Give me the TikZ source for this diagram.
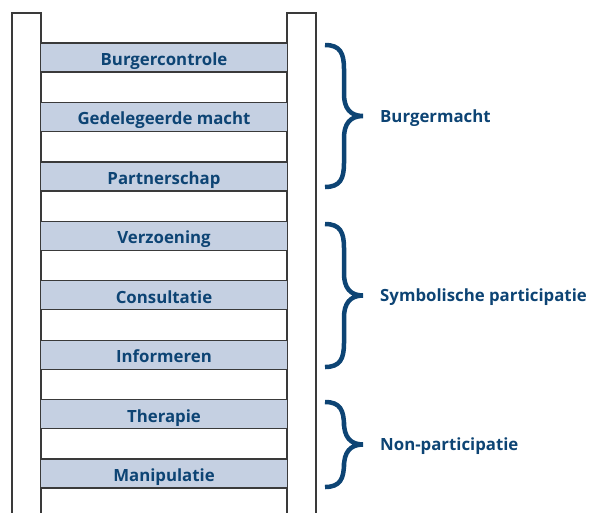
\documentclass[tikz,border=0pt]{standalone}
\usepackage{fontspec}
\setmainfont{Open Sans}
\definecolor{rungfill}{HTML}{C5D0E2}
\definecolor{txtblue}{HTML}{0D4474}
\definecolor{edge}{HTML}{3A3A3A}
\begin{document}
\begin{tikzpicture}[x=1pt,y=-1pt,
  rail/.style={draw=edge,line width=1.1pt,fill=white},
  rung/.style={draw=edge,line width=1.3pt,fill=rungfill},
  rungtxt/.style={text=txtblue,font=\fontsize{16.8}{18}\selectfont\bfseries,anchor=base,inner sep=0pt},
  grouptxt/.style={text=txtblue,font=\fontsize{16.8}{18}\selectfont\bfseries,anchor=base west,inner sep=0pt},
  bracepath/.style={draw=txtblue,line width=4.5pt,line cap=butt}]
\useasboundingbox (0,0) rectangle (593,512);
% rails
\draw[rail] (12,520) -- (12,13) -- (41,13) -- (41,520);
\draw[rail] (287,520) -- (287,13) -- (316,13) -- (316,520);
% rungs
\foreach \i/\t/\n in {0/Burgercontrole/r1,1/Gedelegeerde macht/r2,2/Partnerschap/r3,3/Verzoening/r4,4/Consultatie/r5,5/Informeren/r6,6/Therapie/r7,7/Manipulatie/r8}{
  \pgfmathsetmacro{\yt}{43+\i*59.43}
  \fill[rungfill] (41,\yt) rectangle (287,\yt+29);
  \draw[draw=edge,line width=1.3pt] (41,\yt) -- (287,\yt) (41,\yt+29) -- (287,\yt+29);
  \node[rungtxt] (\n) at (164,\yt+22.5) {\t};
}
% braces
\newcommand{\mybrace}[3]{% top, bottom, name
  \pgfmathsetmacro{\ym}{(#1+#2)/2}
  \draw[bracepath] (325,#1) .. controls (340,#1) and (344,#1+8) .. (344,#1+24)
    -- (344,\ym-22) .. controls (344,\ym-8) and (350,\ym) .. (363,\ym)
    .. controls (350,\ym) and (344,\ym+8) .. (344,\ym+22)
    -- (344,#2-24) .. controls (344,#2-8) and (340,#2) .. (325,#2);
  \coordinate (#3) at (380,\ym+6);
}
\mybrace{45}{187}{b1}
\mybrace{224}{367}{b2}
\mybrace{402}{487}{b3}
\node[grouptxt] (g1) at (b1) {Burgermacht};
\node[grouptxt] (g2) at (b2) {Symbolische participatie};
\node[grouptxt] (g3) at (b3) {Non-participatie};
\end{tikzpicture}
\end{document}
